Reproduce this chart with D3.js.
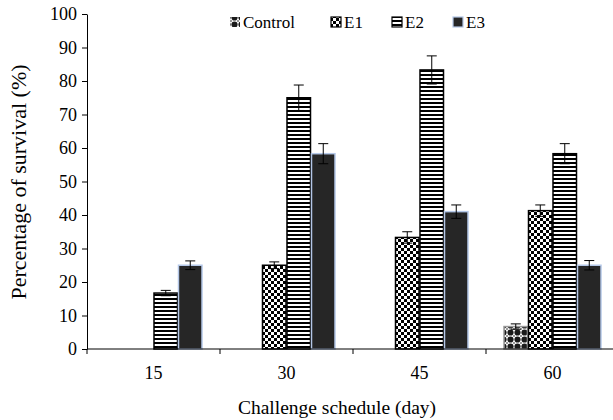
<!DOCTYPE html>
<html>
<head>
<meta charset="utf-8">
<script src="https://cdn.jsdelivr.net/npm/d3@7"></script>
<style>
  body { margin: 0; background: #fff; }
</style>
</head>
<body>
<div id="chart"></div>
<script>
// challenge days and series values (% survival)
const days = ["15", "30", "45", "60"];
const seriesNames = ["Control", "E1", "E2", "E3"];
const controlVals = [0, 0, 0, 6.7];
const controlErr = [0, 0, 0, 0.8];
const e1Vals = [0, 25, 33.3, 41.3];
const e1Err = [0, 1, 1.7, 1.7];
const e2Vals = [16.7, 75, 83.3, 58.3];
const e2Err = [0.8, 3.8, 4.2, 3];
const e3Vals = [25, 58.3, 41, 25];
const e3Err = [1.3, 3, 2, 1.4];
const yTicks = [0, 10, 20, 30, 40, 50, 60, 70, 80, 90, 100];

const series = [
  { name: "Control", vals: controlVals, err: controlErr },
  { name: "E1", vals: e1Vals, err: e1Err },
  { name: "E2", vals: e2Vals, err: e2Err },
  { name: "E3", vals: e3Vals, err: e3Err }
];

const FONT = "'Liberation Serif'";
const W = 613, H = 420;
const margin = { top: 14, right: -6, bottom: 71, left: 87 };
const width = W - margin.left - margin.right;
const height = H - margin.top - margin.bottom;

const svg = d3.select("#chart").append("svg")
  .attr("width", W).attr("height", H);

// fill patterns
const defs = svg.append("defs");

const pCtrl = defs.append("pattern").attr("id", "p-control")
  .attr("patternUnits", "userSpaceOnUse").attr("width", 7).attr("height", 7);
pCtrl.append("rect").attr("width", 7).attr("height", 7).attr("fill", "#fff");
pCtrl.append("circle").attr("cx", 3.5).attr("cy", 3.5).attr("r", 3.1).attr("fill", "#1a1a1a");
[[0, 0], [7, 0], [0, 7], [7, 7]].forEach(([cx, cy]) =>
  pCtrl.append("circle").attr("cx", cx).attr("cy", cy).attr("r", 0.8).attr("fill", "#1a1a1a"));

const pE1 = defs.append("pattern").attr("id", "p-e1")
  .attr("patternUnits", "userSpaceOnUse").attr("width", 6).attr("height", 6);
pE1.append("rect").attr("width", 6).attr("height", 6).attr("fill", "#fff");
pE1.append("rect").attr("width", 3).attr("height", 3).attr("fill", "#000");
pE1.append("rect").attr("x", 3).attr("y", 3).attr("width", 3).attr("height", 3).attr("fill", "#000");

const pE2 = defs.append("pattern").attr("id", "p-e2")
  .attr("patternUnits", "userSpaceOnUse").attr("width", 4).attr("height", 4);
pE2.append("rect").attr("width", 4).attr("height", 4).attr("fill", "#fff");
pE2.append("rect").attr("width", 4).attr("height", 2).attr("fill", "#000");

const fills = { Control: "url(#p-control)", E1: "url(#p-e1)", E2: "url(#p-e2)", E3: "#262626" };
const strokes = { Control: "#999", E1: "#000", E2: "#000", E3: "#b4c7e7" };

const g = svg.append("g").attr("transform", `translate(${margin.left},${margin.top})`);

const x0 = d3.scaleBand().domain(days).range([0, width]).padding(0);
const x1 = d3.scaleBand().domain(seriesNames).range([17.5, x0.bandwidth() - 17.5]).padding(0);
const y = d3.scaleLinear().domain([0, 100]).range([height, 0]);

// y axis
const yAxis = g.append("g")
  .call(d3.axisLeft(y).tickValues(yTicks).tickSize(5).tickSizeOuter(0));
yAxis.select(".domain").attr("stroke", "#000");
yAxis.selectAll("text")
  .attr("font-family", FONT).attr("font-size", 18)
  .attr("fill", "#000").attr("x", -10);

// bars
days.forEach((day, i) => {
  const grp = g.append("g").attr("transform", `translate(${x0(day)},0)`);
  series.forEach(s => {
    const v = s.vals[i];
    grp.append("rect")
      .attr("x", x1(s.name) + 0.5)
      .attr("y", y(v))
      .attr("width", x1.bandwidth() - 1)
      .attr("height", height - y(v))
      .attr("fill", fills[s.name])
      .attr("stroke", strokes[s.name])
      .attr("stroke-width", v === 0 ? 1 : 1.5);
    if (s.err[i] > 0) {
      const cx = x1(s.name) + x1.bandwidth() / 2;
      const eb = grp.append("g").attr("stroke", "#000").attr("stroke-width", 1);
      eb.append("line").attr("x1", cx).attr("x2", cx)
        .attr("y1", y(v - s.err[i])).attr("y2", y(v + s.err[i]));
      eb.append("line").attr("x1", cx - 5).attr("x2", cx + 5)
        .attr("y1", y(v + s.err[i])).attr("y2", y(v + s.err[i]));
      eb.append("line").attr("x1", cx - 5).attr("x2", cx + 5)
        .attr("y1", y(v - s.err[i])).attr("y2", y(v - s.err[i]));
    }
  });
});

// x axis with ticks at category boundaries
const xAxis = g.append("g").attr("transform", `translate(0,${height})`);
xAxis.append("line").attr("x1", 0).attr("x2", width).attr("stroke", "#000");
days.forEach(day => {
  xAxis.append("line").attr("x1", x0(day)).attr("x2", x0(day))
    .attr("y1", 0).attr("y2", 5).attr("stroke", "#000");
  xAxis.append("text")
    .attr("x", x0(day) + x0.bandwidth() / 2)
    .attr("y", 30)
    .attr("text-anchor", "middle")
    .attr("font-family", FONT)
    .attr("font-size", 18)
    .text(day);
});

// axis titles
svg.append("text")
  .attr("x", 337).attr("y", 414)
  .attr("text-anchor", "middle")
  .attr("font-family", FONT).attr("font-size", 19.5)
  .text("Challenge schedule (day)");
svg.append("text")
  .attr("transform", "translate(26,182) rotate(-90)")
  .attr("text-anchor", "middle")
  .attr("font-family", FONT).attr("font-size", 22)
  .text("Percentage of survival (%)");

// legend
const legendPos = [229, 330, 391, 452];
const leg = svg.append("g");
series.forEach((s, i) => {
  const lx = legendPos[i];
  leg.append("rect")
    .attr("x", lx + 1).attr("y", 17).attr("width", 10).attr("height", 10)
    .attr("fill", fills[s.name])
    .attr("stroke", s.name === "Control" ? "none" : strokes[s.name])
    .attr("stroke-width", 1.2);
  leg.append("text")
    .attr("x", lx + 14).attr("y", 28)
    .attr("font-family", FONT)
    .attr("font-size", 17)
    .text(s.name);
});
</script>
</body>
</html>
